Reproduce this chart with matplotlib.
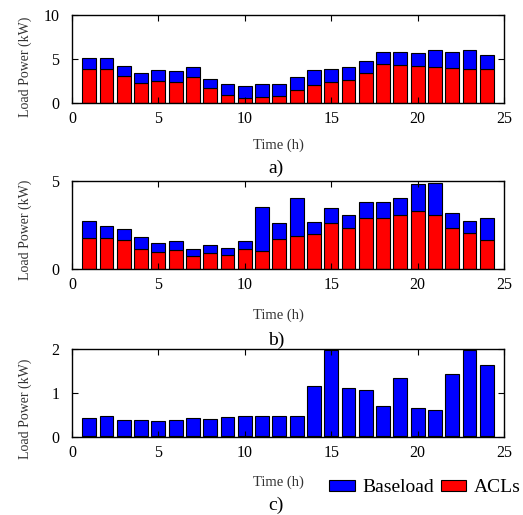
import numpy as np
import matplotlib
matplotlib.use("Agg")
import matplotlib.pyplot as plt

# hodiny dne
hodiny = np.arange(1, 25)

# a) celkovy odber a podil ACL (kW)
celkem_a = [5.17, 5.13, 4.26, 3.46, 3.80, 3.60, 4.10, 2.78, 2.13, 1.98, 2.20, 2.17,
            2.97, 3.76, 3.92, 4.07, 4.75, 5.82, 5.74, 5.70, 5.97, 5.78, 6.00, 5.44]
acl_a = [3.92, 3.92, 3.04, 2.28, 2.51, 2.40, 2.93, 1.67, 0.91, 0.61, 0.68, 0.76,
         1.44, 2.05, 2.40, 2.59, 3.38, 4.45, 4.33, 4.22, 4.10, 4.03, 3.92, 3.92]

# b)
celkem_b = [2.71, 2.46, 2.25, 1.79, 1.47, 1.58, 1.11, 1.39, 1.22, 1.58, 3.55, 2.63,
            4.05, 2.65, 3.47, 3.09, 3.78, 3.80, 4.01, 4.81, 4.87, 3.17, 2.75, 2.92]
acl_b = [1.74, 1.77, 1.62, 1.16, 0.97, 1.07, 0.74, 0.92, 0.80, 1.13, 1.01, 1.72,
         1.87, 1.97, 2.63, 2.35, 2.90, 2.92, 3.09, 3.32, 3.09, 2.35, 2.02, 1.64]

# c)
celkem_c = [0.44, 0.47, 0.39, 0.39, 0.37, 0.38, 0.44, 0.42, 0.45, 0.47, 0.47, 0.48,
            0.47, 1.17, 1.98, 1.11, 1.06, 0.71, 1.35, 0.65, 0.61, 1.44, 1.98, 1.64]
acl_c = [0.03] * 24

popisky = ["a)", "b)", "c)"]
ylimity = [10, 5, 2]
yticky = [[0, 5, 10], [0, 5], [0, 1, 2]]

plt.rcParams["font.family"] = ["Liberation Serif", "DejaVu Serif"]

W, H = 523, 515
fig = plt.figure(figsize=(W / 100, H / 100), dpi=100)

# polohy os v pixelech (horni a dolni okraj)
okraje = [(15, 103), (181, 269), (349, 437)]
ylabel_y = [67, 230, 409]
xlabel_y = [145, 315, 482]
popisek_y = [168, 340, 505]

data = [(celkem_a, acl_a), (celkem_b, acl_b), (celkem_c, acl_c)]

for k in range(3):
    horni, dolni = okraje[k]
    ax = fig.add_axes([72 / W, 1 - dolni / H, 432 / W, (dolni - horni) / H])

    celkem, acl = data[k]
    zaklad = np.array(celkem) - np.array(acl)

    b1 = ax.bar(hodiny, acl, width=0.8, color="red", edgecolor="black", linewidth=0.8)
    b2 = ax.bar(hodiny, zaklad, bottom=acl, width=0.8, color="blue",
                edgecolor="black", linewidth=0.8)

    ax.set_xlim(0, 25)
    ax.set_ylim(0, ylimity[k])
    ax.set_xticks([0, 5, 10, 15, 20, 25])
    ax.set_yticks(yticky[k])
    ax.tick_params(direction="in", top=True, right=True, length=4, width=0.8,
                   labelsize=11.5, colors="black")
    ax.tick_params(axis="x", pad=6)
    ax.tick_params(axis="y", pad=9)
    for s in ax.spines.values():
        s.set_linewidth(1.0)

    ax.set_ylabel("Load Power (kW)", fontsize=10, color="#333333")
    ax.yaxis.set_label_coords(-0.109, 1 - (ylabel_y[k] - horni) / (dolni - horni))
    ax.yaxis.label.set_va("center")

    ax.set_xlabel("Time (h)", fontsize=10.5, color="#333333")
    ax.xaxis.set_label_coords(0.477, 1 - (xlabel_y[k] - horni) / (dolni - horni))
    ax.xaxis.label.set_va("center")

    fig.text(276 / W, 1 - popisek_y[k] / H, popisky[k], fontsize=14,
             ha="center", va="center")

fig.legend([b2, b1], ["Baseload", "ACLs"], loc="center",
           bbox_to_anchor=(0.813, 1 - 488 / H), ncol=2, frameon=False,
           fontsize=14, handlelength=1.3, handleheight=0.55,
           handletextpad=0.4, columnspacing=0.35, borderpad=0)

fig.savefig("out.png", dpi=100)
